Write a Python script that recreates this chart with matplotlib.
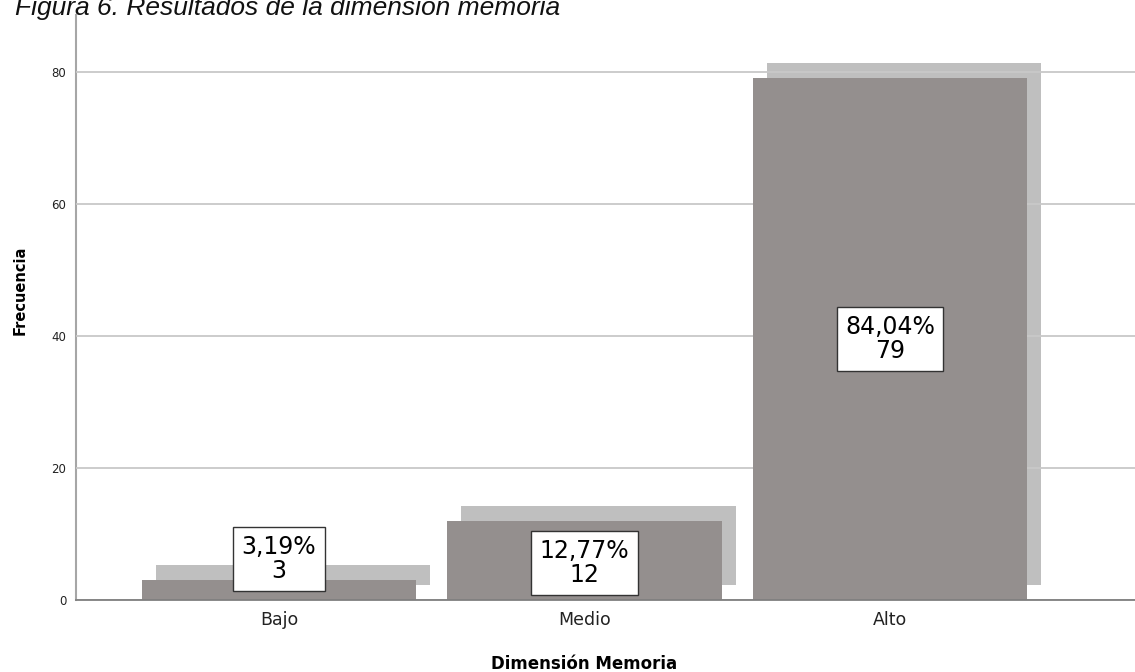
import numpy as np
import matplotlib.pyplot as plt

categorias = ["Bajo", "Medio", "Alto"]
frecuencias = [3, 12, 79]
porcentajes = ["3,19%", "12,77%", "84,04%"]
label_pos = [6.2, 5.6, 39.5]

bar_color = "#948f8e"
shadow_color = "#bfbfbf"

fig = plt.figure(figsize=(11.35, 6.72), dpi=100)
ax = fig.add_axes([76 / 1135, 1 - 600 / 672, 1 - 76 / 1135, (600 - 15) / 672])

x = np.arange(len(categorias))
width = 0.9
dx = 14 / 305.5
dy = 2.3

# sombra desplazada detras de cada barra
ax.bar(x + dx, frecuencias, width=width, bottom=dy, color=shadow_color,
       zorder=1, linewidth=0)
ax.bar(x, frecuencias, width=width, color=bar_color, zorder=3, linewidth=0)

for xi, p, f, yl in zip(x, porcentajes, frecuencias, label_pos):
    ax.text(xi, yl, f"{p}\n{f}", ha="center", va="center", fontsize=17,
            family="DejaVu Sans", linespacing=1.0, zorder=5,
            bbox=dict(boxstyle="square,pad=0.35", fc="white", ec="#333333", lw=1))

ax.set_xlim(-0.6645, 2.802)
ax.set_ylim(0, 88.6)
ax.set_yticks([0, 20, 40, 60, 80])
ax.set_xticks(x)
ax.set_xticklabels(categorias, fontsize=12.5, family="DejaVu Sans", color="#222222")
ax.tick_params(axis="y", labelsize=8.5, length=0, pad=7, labelcolor="#222222")
ax.tick_params(axis="x", length=0, pad=8)

ax.yaxis.grid(True, color="#c8c8c8", lw=1.3, zorder=2)
ax.set_axisbelow(False)
for gl in ax.get_ygridlines():
    gl.set_zorder(2)

for s in ["top", "right"]:
    ax.spines[s].set_visible(False)
ax.spines["left"].set_color("#a6a6a6")
ax.spines["left"].set_linewidth(1.5)
ax.spines["bottom"].set_color("#7f7f7f")
ax.spines["bottom"].set_linewidth(1.3)
ax.spines["bottom"].set_zorder(6)

fig.text(584 / 1135, 1 - 664 / 672, "Dimensión Memoria", ha="center", va="center",
         fontsize=12, fontweight="bold", family="DejaVu Sans")
fig.text(20 / 1135, 1 - 290 / 672, "Frecuencia", ha="center", va="center",
         rotation=90, fontsize=10.5, fontweight="bold", family="DejaVu Sans")

fig.text(15 / 1135, 1 - 15 / 672, "Figura 6. Resultados de la dimensión memoria",
         ha="left", va="baseline", fontsize=19, style="italic",
         family="Liberation Sans", color="#111111")

fig.savefig("out.png", dpi=100)
